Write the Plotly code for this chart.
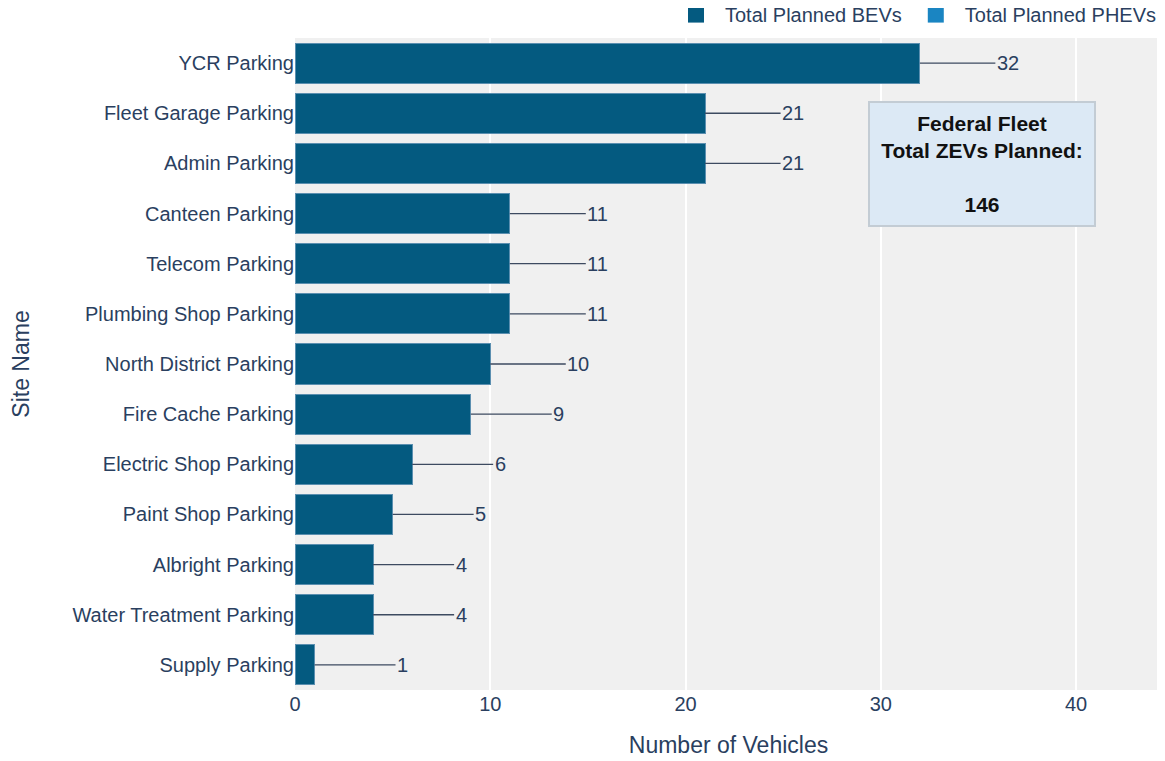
import plotly.graph_objects as go

sites = ["YCR Parking", "Fleet Garage Parking", "Admin Parking", "Canteen Parking",
         "Telecom Parking", "Plumbing Shop Parking", "North District Parking",
         "Fire Cache Parking", "Electric Shop Parking", "Paint Shop Parking",
         "Albright Parking", "Water Treatment Parking", "Supply Parking"]
bevs = [32, 21, 21, 11, 11, 11, 10, 9, 6, 5, 4, 4, 1]
phevs = [0, 0, 0, 0, 0, 0, 0, 0, 0, 0, 0, 0, 0]
series_names = ["Total Planned BEVs", "Total Planned PHEVs"]
series_colors = ["#045a80", "#1a85c2"]
total_zev = sum(bevs) + sum(phevs)

fig = go.Figure()
fig.add_trace(go.Bar(y=sites, x=bevs, orientation="h", name=series_names[0],
                     legendgroup="bev", showlegend=False,
                     marker=dict(color=series_colors[0], line=dict(color="#5b8fb0", width=1))))
fig.add_trace(go.Bar(y=sites, x=phevs, orientation="h", name=series_names[1],
                     legendgroup="phev", showlegend=False,
                     marker=dict(color=series_colors[1], line=dict(width=0))))
# legend entries with larger square swatches
for nm, col, grp in zip(series_names, series_colors, ["bev", "phev"]):
    fig.add_trace(go.Scatter(x=[None], y=[None], mode="markers", name=nm, legendgroup=grp,
                             marker=dict(symbol="square", size=16, color=col), hoverinfo="skip"))

for s, b, p in zip(sites, bevs, phevs):
    fig.add_annotation(x=b + p, y=s, text=str(b + p), showarrow=True, arrowhead=0,
                       arrowwidth=1.3, arrowcolor="#3d4a60", ax=88, ay=0,
                       font=dict(size=20, color="#2a3f5f"))

fig.add_annotation(xref="paper", yref="paper", x=0.792, y=0.807,
                   xanchor="center", yanchor="middle",
                   text="<b>Federal Fleet<br>Total ZEVs Planned:<br><br>%d</b>" % total_zev,
                   showarrow=False, bgcolor="#dce9f5", bordercolor="#c3ccd4", borderwidth=2,
                   width=218, height=116, borderpad=3,
                   font=dict(size=21, color="#111111"), align="center")

fig.update_layout(
    barmode="stack", bargap=0.2,
    width=1165, height=761,
    paper_bgcolor="white", plot_bgcolor="#f0f0f0",
    font=dict(family="Liberation Sans, Arial", color="#2a3f5f", size=20),
    margin=dict(l=287, r=11, t=30, b=79, autoexpand=False),
    legend=dict(orientation="h", x=1, xanchor="right", y=1.006, yanchor="bottom",
                font=dict(size=20), traceorder="normal", itemwidth=48,
                itemsizing="trace"),
    xaxis=dict(range=[0, 44.4], dtick=10, gridcolor="white", gridwidth=1.5,
               zeroline=False, title=dict(text="Number of Vehicles", font=dict(size=23), standoff=22),
               ticks="", tickfont=dict(size=20)),
    yaxis=dict(categoryorder="array", categoryarray=sites[::-1], showgrid=False,
               title=dict(text="Site Name", font=dict(size=23), standoff=46),
               tickfont=dict(size=20)),
)

fig.write_html("out.html")
